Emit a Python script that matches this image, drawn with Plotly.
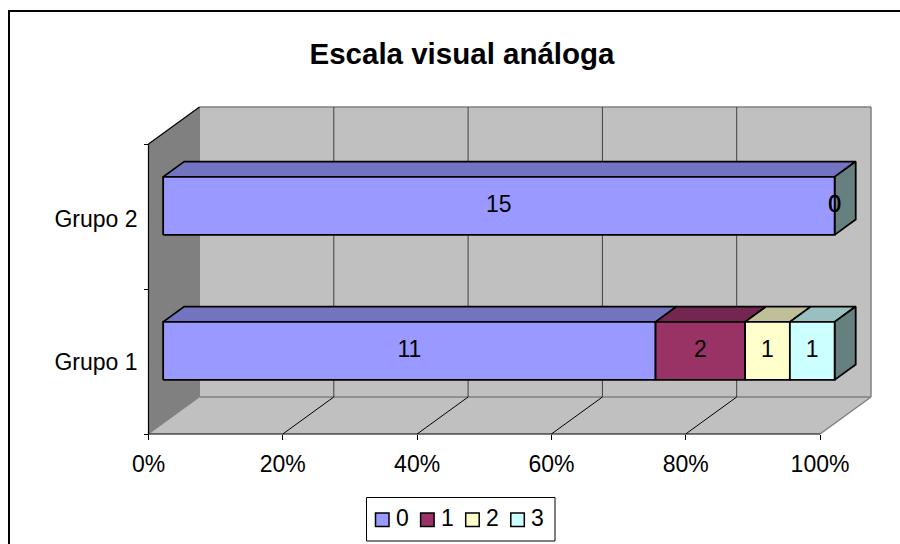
import plotly.graph_objects as go

# Chart content
title = "Escala visual análoga"
groups = ["Grupo 1", "Grupo 2"]
group_label_pos = [0.5, 1.485]
series_names = ["0", "1", "2", "3"]
counts_0 = [11, 15]
counts_1 = [2, 0]
counts_2 = [1, 0]
counts_3 = [1, 0]
pct_ticks = [0, 20, 40, 60, 80, 100]

face_colors = ["#9999FF", "#993366", "#FFFFCC", "#CCFFFF"]
top_colors = ["#7373BF", "#732650", "#BFBF99", "#99BFBF"]
end_cap_color = "#668080"

# Pixel geometry of the front plane of the box
W, H = 900, 544
LEFT, RIGHT, TOP, BOTTOM = 148.5, 820.0, 144.0, 434.0
DEPTH_PX_X, DEPTH_PX_Y = 51.0, 37.0
px_per_pct = (RIGHT - LEFT) / 100
px_per_cat = (BOTTOM - TOP) / len(groups)
depth_x = DEPTH_PX_X / px_per_pct
depth_y = DEPTH_PX_Y / px_per_cat

BAR_NEAR, BAR_FAR = 0.287, 0.70
BAR_HALF = 0.2
EDGE = 1.8


def proj(pct, cat, depth):
    """Oblique projection of a (percent, category, depth) point to axis units."""
    return pct + depth * depth_x, cat + depth * depth_y


def poly(points, fill, line_color=None, width=0):
    xs, ys = zip(*(proj(*p) for p in points))
    return go.Scatter(
        x=list(xs) + [xs[0]], y=list(ys) + [ys[0]],
        mode="lines", fill="toself", fillcolor=fill,
        line=dict(color=line_color or fill, width=width if line_color else 0),
        hoverinfo="skip", showlegend=False, cliponaxis=False,
    )


def seg(a, b, color, width):
    xs, ys = zip(proj(*a), proj(*b))
    return go.Scatter(
        x=list(xs), y=list(ys), mode="lines", line=dict(color=color, width=width),
        hoverinfo="skip", showlegend=False, cliponaxis=False,
    )


fig = go.Figure()
n = len(groups)

# Walls and floor
fig.add_trace(poly([(0, 0, 0), (0, n, 0), (0, n, 1), (0, 0, 1)], "#808080"))
fig.add_trace(poly([(0, 0, 1), (0, n, 1), (100, n, 1), (100, 0, 1)], "#C0C0C0"))
fig.add_trace(poly([(0, 0, 0), (0, 0, 1), (100, 0, 1), (100, 0, 0)], "#C0C0C0"))

# Box edges
fig.add_trace(seg((0, n, 1), (100, n, 1), "#808080", 1.5))
fig.add_trace(seg((100, n, 1), (100, 0, 1), "#808080", 1.5))
fig.add_trace(seg((0, 0, 1), (100, 0, 1), "#808080", 1.5))
fig.add_trace(seg((100, 0, 1), (100, 0, 0), "#808080", 1.5))
fig.add_trace(seg((0, 0, 0), (0, 0, 1), "#808080", 1))
fig.add_trace(seg((0, 0, 1), (0, n, 1), "#808080", 1))

# Gridlines on the back wall and across the floor
for p in pct_ticks[1:-1]:
    fig.add_trace(seg((p, 0, 1), (p, n, 1), "#404040", 1))
    fig.add_trace(seg((p, 0, 0), (p, 0, 1), "#000000", 1))

# Axis lines
fig.add_trace(seg((0, 0, 0), (100, 0, 0), "#000000", 1.2))
fig.add_trace(seg((0, 0, 0), (0, n, 0), "#000000", 1.2))
fig.add_trace(seg((0, n, 0), (0, n, 1), "#000000", 1.2))

# Stacked bars, normalised to 100 % per group
series = [counts_0, counts_1, counts_2, counts_3]
label_x, label_y, label_text = [], [], []
for g in reversed(range(n)):
    total = sum(s[g] for s in series)
    y0, y1 = g + 0.5 - BAR_HALF, g + 0.5 + BAR_HALF
    start = 0.0
    segments = []
    for i, s in enumerate(series):
        end = start + s[g] / total * 100
        segments.append((i, start, end, s[g]))
        start = end
    for i, a, b, value in segments:
        if b > a:
            fig.add_trace(poly([(a, y1, BAR_NEAR), (a, y1, BAR_FAR), (b, y1, BAR_FAR), (b, y1, BAR_NEAR)],
                               top_colors[i], "#000000", EDGE))
    # The end cap takes the tint of the last series of the stack
    fig.add_trace(poly([(100, y0, BAR_NEAR), (100, y0, BAR_FAR), (100, y1, BAR_FAR), (100, y1, BAR_NEAR)],
                       end_cap_color, "#000000", EDGE))
    for i, a, b, value in segments:
        if b > a:
            trace = poly([(a, y0, BAR_NEAR), (a, y1, BAR_NEAR), (b, y1, BAR_NEAR), (b, y0, BAR_NEAR)],
                         face_colors[i], "#000000", EDGE)
            trace.name = f"{series_names[i]} – {groups[g]}"
            fig.add_trace(trace)
        cx, cy = proj((a + b) / 2, g + 0.5, BAR_NEAR)
        label_x.append(cx)
        label_y.append(cy)
        label_text.append(str(value))

font = dict(family="Liberation Sans", size=23, color="#000000")

fig.add_trace(go.Scatter(
    x=label_x, y=label_y, text=label_text, mode="text", textposition="middle center",
    textfont=font, hoverinfo="skip", showlegend=False, cliponaxis=False,
))


def px_x(v):
    return v / W


def px_y(v):
    return 1 - v / H


# Outer frame of the chart area (open on the right and at the bottom)
fig.add_shape(type="path", xref="paper", yref="paper",
              path=f"M {px_x(9)} {px_y(544)} L {px_x(9)} {px_y(11)} L {px_x(900)} {px_y(11)}",
              line=dict(color="#000000", width=2))

# Legend: framed row of colour swatches with the series names
fig.add_shape(type="rect", xref="paper", yref="paper",
              x0=px_x(366.5), x1=px_x(555), y0=px_y(541), y1=px_y(497.5),
              line=dict(color="#000000", width=1), fillcolor="#FFFFFF")
for i, (name, color) in enumerate(zip(series_names, face_colors)):
    x_left = 375.5 + 45.1 * i
    fig.add_shape(type="rect", xref="paper", yref="paper",
                  x0=px_x(x_left), x1=px_x(x_left + 13.5), y0=px_y(526.5), y1=px_y(513),
                  line=dict(color="#000000", width=1.5), fillcolor=color)
    fig.add_annotation(xref="paper", yref="paper", x=px_x(x_left + 19.5), y=px_y(518),
                       xanchor="left", yanchor="middle", text=name, showarrow=False,
                       font=font, borderpad=0)

fig.update_layout(
    width=W, height=H, autosize=False,
    margin=dict(l=0, r=0, t=0, b=0, pad=0),
    paper_bgcolor="#FFFFFF", plot_bgcolor="#FFFFFF",
    font=font, showlegend=False,
    title=dict(text=f"<b>{title}</b>", x=462 / W, xanchor="center", y=1 - 54 / H, yanchor="middle",
               font=dict(family="Liberation Sans", size=29.5, color="#000000")),
    xaxis=dict(range=[-LEFT / px_per_pct, (W - LEFT) / px_per_pct],
               anchor="free", position=(H - BOTTOM) / H,
               tickmode="array", tickvals=pct_ticks,
               ticktext=[f"{p}%" for p in pct_ticks], ticks="outside", ticklen=5, tickwidth=1,
               tickcolor="#000000", showgrid=False, zeroline=False, showline=False,
               ticklabelstandoff=4, fixedrange=True),
    yaxis=dict(range=[-(H - BOTTOM) / px_per_cat, BOTTOM / px_per_cat],
               anchor="free", position=LEFT / W,
               tickmode="array", tickvals=group_label_pos, ticktext=groups,
               ticks="", showgrid=False, zeroline=False, showline=False, ticklabelstandoff=11,
               minor=dict(tickmode="array", tickvals=[0, 1, 2], ticks="outside", ticklen=5, tickwidth=1,
                          tickcolor="#000000", showgrid=False),
               fixedrange=True),
)

fig.write_html("out.html", config=dict(displayModeBar=False))
